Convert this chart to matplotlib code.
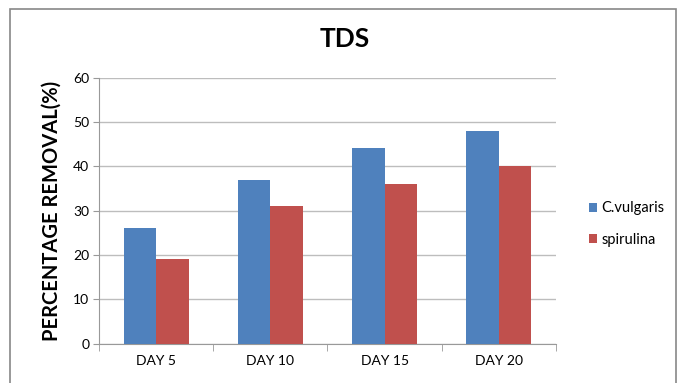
import numpy as np
import matplotlib
matplotlib.use('Agg')
import matplotlib.pyplot as plt
from matplotlib.patches import Rectangle

plt.rcParams['font.family'] = ['Lato', 'DejaVu Sans']

days = ['DAY 5', 'DAY 10', 'DAY 15', 'DAY 20']
c_vulgaris = [26, 37, 44, 48]
spirulina = [19, 31, 36, 40]

fig = plt.figure(figsize=(6.81, 3.83), dpi=100)
ax = fig.add_axes([0.1454, 0.103, 0.671, 0.6945])

# outer chart frame
fig.patches.append(Rectangle((10/681, -0.05), 666/681, 1.05 - 9/383, transform=fig.transFigure,
                             fill=False, edgecolor='#888888', linewidth=1.2))

x = np.arange(len(days))
w = 0.285
ax.bar(x - w/2, c_vulgaris, w, color='#4F81BD', label='C.vulgaris', zorder=3)
ax.bar(x + w/2, spirulina, w, color='#C0504D', label='spirulina', zorder=3)

ax.set_xlim(-0.5, 3.5)
ax.set_ylim(0, 60)
ax.set_yticks(range(0, 61, 10))
ax.yaxis.grid(True, color='#BDBDBD', linewidth=1, zorder=0)
ax.set_xticks(x)
ax.set_xticklabels(days, fontsize=10)
ax.tick_params(axis='x', length=0, pad=8)
ax.set_xticks(np.arange(-0.5, 4, 1), minor=True)
ax.tick_params(axis='x', which='minor', length=5, color='#999999')
ax.tick_params(axis='y', length=4, color='#999999', labelsize=10, pad=3)

for s in ['top', 'right']:
    ax.spines[s].set_visible(False)
for s in ['left', 'bottom']:
    ax.spines[s].set_color('#999999')

ax.set_ylabel('PERCENTAGE REMOVAL(%)', fontsize=14.5, fontweight='bold', labelpad=8)
fig.text(0.506, 1 - 39/383, 'TDS', ha='center', va='center', fontsize=19, fontweight='bold')

fig.legend(loc='center left', bbox_to_anchor=(0.845, 0.415), frameon=False, fontsize=10.5,
           handlelength=0.6, handleheight=0.6, handletextpad=0.3, labelspacing=1.2)

fig.savefig('out.png', dpi=100)
